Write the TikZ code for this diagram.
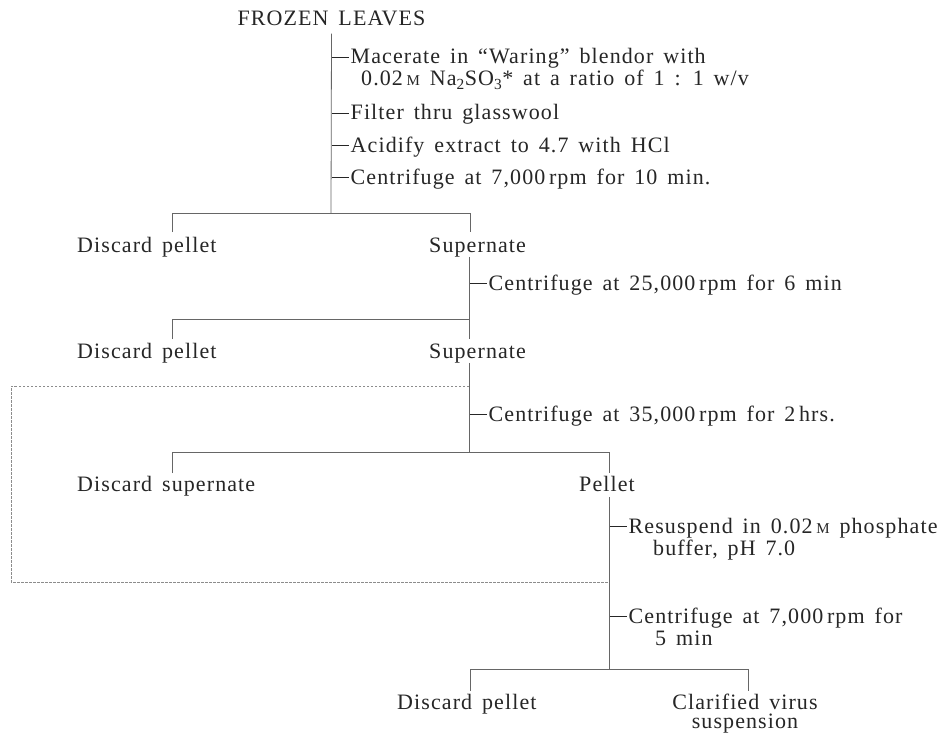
\documentclass[tikz,border=0pt]{standalone}
\usepackage{fontspec}
\setmainfont{Liberation Serif}[LetterSpace=5,WordSpace=1.5]
\newcommand\molar{{\fontsize{15pt}{15pt}\selectfont M}}
\newcommand\dsh{\rule[6.5pt]{17pt}{0.7pt}\hspace{1.5pt}}
\begin{document}
\begin{tikzpicture}[x=1pt,y=-1pt,
  lbl/.style={anchor=base west,inner sep=0pt,font=\fontsize{22pt}{24pt}\selectfont,text=black!85},
  clbl/.style={lbl,anchor=base},
  conn/.style={draw=black!60,line width=0.8pt},
  loopline/.style={draw=black!45,line width=0.7pt,dash pattern=on 2.5pt off 1.5pt}]
\useasboundingbox (0,0) rectangle (952,733);
\fill[white] (0,0) rectangle (952,733);

% labels
\node[clbl] (frozen) at (331.5,26) {FROZEN LEAVES};
\node[lbl] (dp1) at (77,252) {Discard pellet};
\node[lbl] (sn1) at (429,252) {Supernate};
\node[lbl] (dp2) at (77,358) {Discard pellet};
\node[lbl] (sn2) at (429,358) {Supernate};
\node[lbl] (ds) at (77,491) {Discard supernate};
\node[lbl] (pel) at (579,491) {Pellet};
\node[lbl] (dp3) at (397,709) {Discard pellet};
\node[clbl] (cv) at (745,709) {Clarified virus};
\node[clbl] (susp) at (745,728) {suspension};

% step texts
\node[lbl] (s1a) at (332,64) {\dsh Macerate in “Waring” blendor with};
\node[lbl] (s1b) at (361,86) {0.02\,\molar\ Na\textsubscript{2}SO\textsubscript{3}* at a ratio of 1 : 1 w/v};
\node[lbl] (s2) at (332,120) {\dsh Filter thru glasswool};
\node[lbl] (s3) at (332,152) {\dsh Acidify extract to 4.7 with HCl};
\node[lbl] (s4) at (332,184) {\dsh Centrifuge at 7,000\,rpm for 10 min.};
\node[lbl] (s5) at (470,290) {\dsh Centrifuge at 25,000\,rpm for 6 min};
\node[lbl] (s6) at (470,421) {\dsh Centrifuge at 35,000\,rpm for 2\,hrs.};
\node[lbl] (s7a) at (610,533) {\dsh Resuspend in 0.02\,\molar\ phosphate};
\node[lbl] (s7b) at (653,555) {buffer, pH 7.0};
\node[lbl] (s8a) at (610,623) {\dsh Centrifuge at 7,000\,rpm for};
\node[lbl] (s8b) at (655,645) {5 min};

% junction coordinates
\coordinate (j1) at (331,213);
\coordinate (l1) at (172,213); \coordinate (r1) at (470,213);
\coordinate (l1e) at (172,232); \coordinate (r1e) at (470,232);
\coordinate (j2) at (469,319); \coordinate (l2) at (172,319);
\coordinate (l2e) at (172,339); \coordinate (j2e) at (469,339);
\coordinate (j3) at (469,452); \coordinate (l3) at (172,452); \coordinate (r3) at (609,452);
\coordinate (l3e) at (172,473); \coordinate (r3e) at (609,473);
\coordinate (j4) at (609,669); \coordinate (l4) at (470,669); \coordinate (r4) at (748,669);
\coordinate (l4e) at (470,691); \coordinate (r4e) at (748,691);
\coordinate (lpA) at (469,386); \coordinate (lpB) at (11,386);
\coordinate (lpC) at (11,582); \coordinate (lpD) at (609,582);

% connectors
\draw[conn] ([yshift=-7pt]frozen.south) -- (j1);
\draw[conn] (l1e) -- (l1) -- (r1) -- (r1e);
\draw[conn] (sn1.south -| j2) -- (j2e);
\draw[conn] (l2e) -- (l2) -- (j2);
\draw[conn] (sn2.south -| j3) -- (j3);
\draw[conn] (l3e) -- (l3) -- (r3) -- (r3e);
\draw[conn] ([yshift=-6pt]pel.south -| j4) -- (j4);
\draw[conn] (l4e) -- (l4) -- (r4) -- (r4e);
\draw[loopline] (lpA) -- (lpB) -- (lpC) -- (lpD);
\end{tikzpicture}
\end{document}
